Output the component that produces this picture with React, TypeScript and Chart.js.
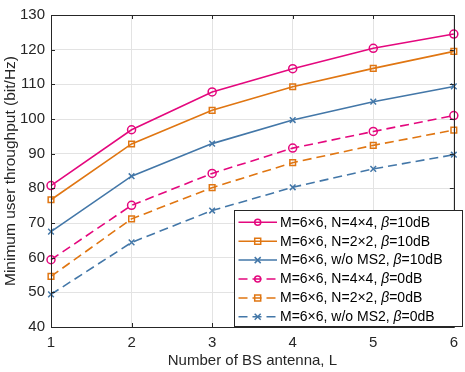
import React, { useEffect, useRef } from "react";
import { Chart, registerables } from "chart.js";

Chart.register(...registerables);

const antennas = ["1", "2", "3", "4", "5", "6"];
const yTicks = [40, 50, 60, 70, 80, 90, 100, 110, 120, 130];

const n4x4_10dB = [80.8, 96.9, 107.8, 114.5, 120.4, 124.5];
const n2x2_10dB = [76.7, 92.8, 102.5, 109.3, 114.6, 119.5];
const noMS2_10dB = [67.5, 83.5, 92.9, 99.7, 105.0, 109.4];
const n4x4_0dB = [59.4, 75.1, 84.3, 91.6, 96.4, 101.0];
const n2x2_0dB = [54.6, 71.2, 80.2, 87.4, 92.4, 96.8];
const noMS2_0dB = [49.4, 64.4, 73.6, 80.3, 85.6, 89.7];

const legendPre = [
  "M=6\u00d76, N=4\u00d74, ",
  "M=6\u00d76, N=2\u00d72, ",
  "M=6\u00d76, w/o MS2, ",
  "M=6\u00d76, N=4\u00d74, ",
  "M=6\u00d76, N=2\u00d72, ",
  "M=6\u00d76, w/o MS2, ",
];
const legendPost = ["=10dB", "=10dB", "=10dB", "=0dB", "=0dB", "=0dB"];

const MAGENTA = "#E4087E";
const ORANGE = "#E07612";
const BLUE = "#4377A8";
const FONT = "'Liberation Sans', Arial, Helvetica, sans-serif";
const DASH = [9, 5];

function makeDs(label: string, data: number[], color: string, style: string, dashed: boolean) {
  return {
    label,
    data,
    borderColor: color,
    backgroundColor: "rgba(0,0,0,0)",
    borderWidth: 1.6,
    borderDash: dashed ? DASH : [],
    pointStyle: style,
    pointRadius: 4,
    pointBorderWidth: 1.5,
    pointBorderColor: color,
    pointBackgroundColor: "rgba(0,0,0,0)",
    tension: 0,
  };
}

const boxPlugin = {
  id: "boxPlugin",
  afterDatasetsDraw(chart: any) {
    const ctx = chart.ctx;
    const { left, right, top, bottom } = chart.chartArea;
    const xs = chart.scales.x;
    const ys = chart.scales.y;
    ctx.save();
    ctx.strokeStyle = "#262626";
    ctx.lineWidth = 1;
    ctx.beginPath();
    ctx.rect(Math.round(left) + 0.5, Math.round(top) + 0.5, Math.round(right - left), Math.round(bottom - top));
    ctx.stroke();
    const tl = 4;
    ctx.beginPath();
    antennas.forEach((_, i) => {
      const x = Math.round(xs.getPixelForValue(i)) + 0.5;
      ctx.moveTo(x, bottom);
      ctx.lineTo(x, bottom - tl);
      ctx.moveTo(x, top);
      ctx.lineTo(x, top + tl);
    });
    yTicks.forEach((v) => {
      const y = Math.round(ys.getPixelForValue(v)) + 0.5;
      ctx.moveTo(left, y);
      ctx.lineTo(left + tl, y);
      ctx.moveTo(right, y);
      ctx.lineTo(right - tl, y);
    });
    ctx.stroke();

    // legend
    const lx = 234.5, ly = 210.5, lw = 228, lh = 116;
    ctx.fillStyle = "#ffffff";
    ctx.fillRect(lx, ly, lw, lh);
    ctx.strokeStyle = "#262626";
    ctx.strokeRect(lx, ly, lw, lh);
    const rowH = 18.9;
    chart.data.datasets.forEach((ds: any, i: number) => {
      const y = 222.3 + i * rowH;
      ctx.strokeStyle = ds.borderColor;
      ctx.lineWidth = 1.5;
      ctx.setLineDash(ds.borderDash || []);
      ctx.beginPath();
      ctx.moveTo(238.5, y);
      ctx.lineTo(277, y);
      ctx.stroke();
      ctx.setLineDash([]);
      ctx.lineWidth = 1.5;
      const mx = 257.7, r = 3;
      ctx.beginPath();
      if (ds.pointStyle === "circle") {
        ctx.arc(mx, y, r, 0, Math.PI * 2);
      } else if (ds.pointStyle === "rect") {
        ctx.rect(mx - r, y - r, 2 * r, 2 * r);
      } else {
        ctx.moveTo(mx - r, y - r);
        ctx.lineTo(mx + r, y + r);
        ctx.moveTo(mx - r, y + r);
        ctx.lineTo(mx + r, y - r);
      }
      ctx.stroke();
      ctx.fillStyle = "#000000";
      ctx.textBaseline = "middle";
      ctx.textAlign = "left";
      let tx = 280;
      ctx.font = `14px ${FONT}`;
      ctx.fillText(legendPre[i], tx, y + 0.5);
      tx += ctx.measureText(legendPre[i]).width;
      ctx.font = `italic 14px ${FONT}`;
      ctx.fillText("\u03b2", tx, y + 0.5);
      tx += ctx.measureText("\u03b2").width;
      ctx.font = `14px ${FONT}`;
      ctx.fillText(legendPost[i], tx, y + 0.5);
    });
    ctx.restore();
  },
};

export default function App() {
  const ref = useRef<HTMLCanvasElement>(null);
  useEffect(() => {
    if (!ref.current) return;
    const chart = new Chart(ref.current, {
      type: "line",
      data: {
        labels: antennas,
        datasets: [
          makeDs("n4x4_10", n4x4_10dB, MAGENTA, "circle", false),
          makeDs("n2x2_10", n2x2_10dB, ORANGE, "rect", false),
          makeDs("noMS2_10", noMS2_10dB, BLUE, "crossRot", false),
          makeDs("n4x4_0", n4x4_0dB, MAGENTA, "circle", true),
          makeDs("n2x2_0", n2x2_0dB, ORANGE, "rect", true),
          makeDs("noMS2_0", noMS2_0dB, BLUE, "crossRot", true),
        ] as any,
      },
      options: {
        animation: false,
        responsive: false,
        devicePixelRatio: 1,
        layout: { padding: { top: 9.5, right: 4, left: 0, bottom: 0 } },
        plugins: { legend: { display: false }, tooltip: { enabled: false } },
        scales: {
          x: {
            type: "category",
            offset: false,
            grid: { color: "#e3e3e3", drawTicks: false, lineWidth: 1 },
            border: { display: false },
            ticks: { color: "#262626", font: { family: FONT, size: 15 }, padding: 7, maxRotation: 0 },
            title: {
              display: true,
              text: "Number of BS antenna, L",
              color: "#262626",
              font: { family: FONT, size: 15 },
              padding: { top: 0, bottom: 2 },
            },
            afterFit: (s: any) => { s.height = 45; },
          },
          y: {
            min: 40,
            max: 130,
            ticks: { stepSize: 10, color: "#262626", font: { family: FONT, size: 15 }, padding: 6 },
            grid: { color: "#e3e3e3", drawTicks: false, lineWidth: 1 },
            border: { display: false },
            title: {
              display: true,
              text: "Minimum user throughput (bit/Hz)",
              color: "#262626",
              font: { family: FONT, size: 15.5 },
              padding: { top: 1, bottom: 0 },
            },
            afterFit: (s: any) => { s.width = 51; },
          },
        },
      },
      plugins: [boxPlugin],
    });
    return () => chart.destroy();
  }, []);
  return (
    <div style={{ position: "fixed", left: 0, top: 0, width: 465, height: 372, background: "#fff" }}>
      <canvas ref={ref} width={465} height={372} />
    </div>
  );
}
